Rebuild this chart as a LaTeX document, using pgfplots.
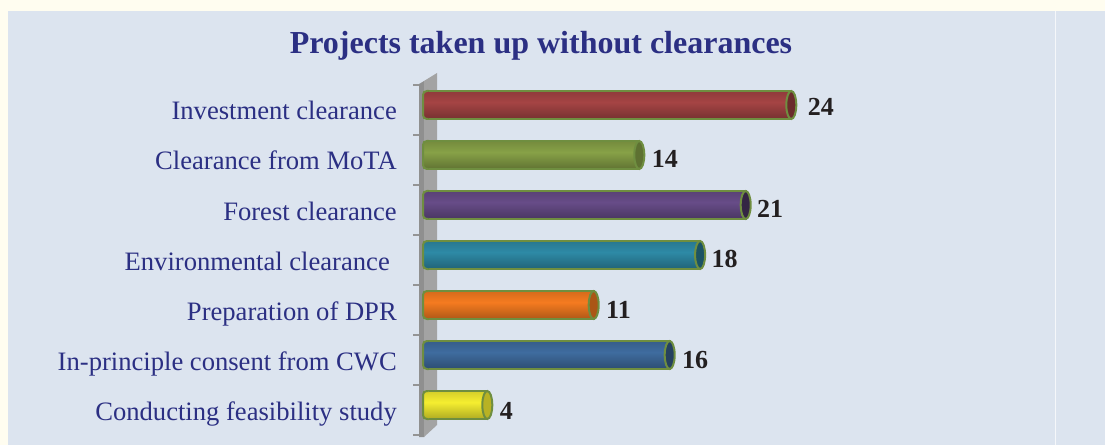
\documentclass[border=0pt]{standalone}
\usepackage{fontspec}
\setmainfont{Liberation Serif}
\usepackage{pgfplots}
\pgfplotsset{compat=1.18}

\definecolor{cream}{HTML}{FFFDF0}
\definecolor{panel}{HTML}{DCE4EF}
\definecolor{navy}{HTML}{2B2F83}
\definecolor{rim}{HTML}{6F8E40}
\definecolor{ink}{HTML}{231F20}

% one vertical shading and one left-end mark per cylinder colour
\newcommand\defcyl[2]{%
  \definecolor{#1}{HTML}{#2}%
  \pgfdeclareverticalshading{shade#1}{100bp}{%
    color(0bp)=(#1!40!black); color(18bp)=(#1!65!black);
    color(55bp)=(#1); color(85bp)=(#1!80!black); color(100bp)=(#1!65!black)}%
  \pgfdeclareplotmark{capL#1}{%
    \pgfpathmoveto{\pgfqpoint{2pt}{14pt}}%
    \pgfpathlineto{\pgfqpoint{0.5pt}{14pt}}%
    \pgfpathcurveto{\pgfqpoint{-2pt}{14pt}}{\pgfqpoint{-3.5pt}{12.5pt}}{\pgfqpoint{-3.5pt}{10pt}}%
    \pgfpathlineto{\pgfqpoint{-3.5pt}{-10pt}}%
    \pgfpathcurveto{\pgfqpoint{-3.5pt}{-12.5pt}}{\pgfqpoint{-2pt}{-14pt}}{\pgfqpoint{0.5pt}{-14pt}}%
    \pgfpathlineto{\pgfqpoint{2pt}{-14pt}}%
    \pgfshadepath{shade#1}{0}%
    \pgfusepathqstroke}%
}
\pgfdeclareplotmark{capR}{%
  \pgfpathellipse{\pgfpointorigin}{\pgfqpoint{5pt}{0pt}}{\pgfqpoint{0pt}{14pt}}%
  \pgfusepathqfillstroke}

\defcyl{cred}{A54444}
\defcyl{cgreen}{87A147}
\defcyl{cpurple}{674C88}
\defcyl{cteal}{2E8AA6}
\defcyl{corange}{F57B20}
\defcyl{cblue}{3F6C9F}
\defcyl{cyellow}{F5EE30}

% name, end-cap colour, row, value, label xshift, label yshift
\newcommand\cyl[6]{%
  \addplot[xbar, bar shift=0pt, bar width=28pt, draw=rim, line width=2pt,
    shade, shading=shade#1, forget plot,
    nodes near coords, point meta=x,
    every node near coord/.append style={xshift=#5pt, yshift=#6pt}] coordinates {(#4,#3)};
  \addplot[only marks, mark=capL#1, mark options={draw=rim, line width=2pt}, forget plot]
    coordinates {(0,#3)};
  \addplot[only marks, mark=capR, mark options={fill=#2, draw=rim, line width=2pt}, forget plot]
    coordinates {(#4,#3)};
}

\begin{document}
\begin{tikzpicture}[x=1pt,y=1pt]
\fill[cream] (0,0) rectangle (1105,445);
\fill[panel] (8,0) rectangle (1105,434);
\fill[white!70!panel] (1055,0) rectangle (1056.3,434);
\begin{axis}[
    at={(419pt,0pt)}, anchor=south west,
    scale only axis,
    width=441pt, height=380pt,
    xmin=-0.4934, xmax=28.52,
    ymin=-0.8, ymax=6.8,
    clip=false,
    axis line style={draw=none},
    xtick=\empty,
    ytick={-0.12,0.88,1.88,2.88,3.88,4.88,5.88},
    yticklabels={Conducting feasibility study, In-principle consent from CWC,
      Preparation of DPR, Environmental clearance\hspace*{7pt}\mbox{}, Forest clearance,
      Clearance from MoTA, Investment clearance},
    minor ytick={-0.6,0.4,1.4,2.4,3.4,4.4,5.4,6.4},
    ytick pos=left,
    tick align=outside,
    major tick length=0pt,
    minor tick length=6pt,
    minor tick style={color=black!42, line width=2pt},
    yticklabel style={font=\fontsize{26.6}{30}\selectfont, text=navy, inner sep=0pt,
      text height=18pt, text depth=6pt, xshift=-22pt, yshift=-3pt},
    /pgf/number format/assume math mode=true,
    every node near coord/.append style={font=\fontsize{26}{30}\bfseries\selectfont, text=ink,
      anchor=west, inner sep=0pt},
    title={Projects taken up without clearances},
    title style={at={(axis description cs:0.2766,1.034)}, anchor=center, inner sep=0pt,
      font=\fontsize{32}{36}\bfseries\selectfont, text=navy},
]
% side wall
\addplot[fill=black!44, draw=none, forget plot] coordinates
  {(-0.493,6.42) (-0.164,6.48) (-0.164,-0.64) (-0.493,-0.64)} -- cycle;
\addplot[fill=black!36, draw=none, forget plot] coordinates
  {(-0.164,6.48) (0.691,6.64) (0.691,-0.4) (-0.164,-0.64)} -- cycle;

\cyl{cred}{cred!65!black}{6}{24}{15.5}{-2}
\cyl{cgreen}{cgreen!70!black}{5}{14}{11.5}{-4}
\cyl{cpurple}{cpurple!50!black}{4}{21}{10.5}{-4}
\cyl{cteal}{cteal!60!black}{3}{18}{10.5}{-4}
\cyl{corange}{corange!70!black}{2}{11}{11.5}{-5}
\cyl{cblue}{cblue!60!black}{1}{16}{11.5}{-5}
\cyl{cyellow}{cyellow!75!black}{0}{4}{11.5}{-6}
\end{axis}
\path[use as bounding box] (0,0) rectangle (1105,445);
\end{tikzpicture}
\end{document}
